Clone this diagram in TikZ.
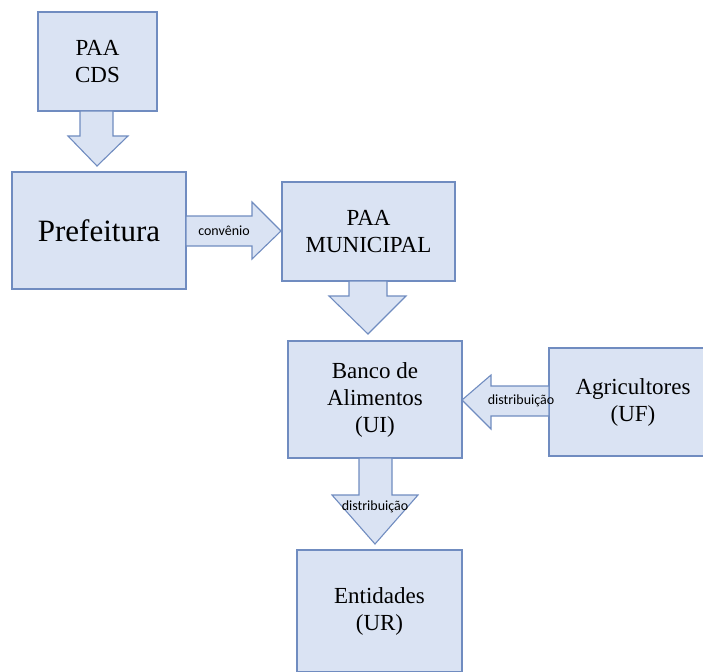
\documentclass[tikz,border=0pt]{standalone}
\usepackage{fontspec}
\setmainfont{Liberation Serif}
\newfontfamily\lblfont{Carlito}
\definecolor{boxfill}{RGB}{218,227,243}
\definecolor{boxline}{RGB}{112,140,192}
\begin{document}
\begin{tikzpicture}[x=1pt,y=-1pt,
  box/.style={draw=boxline,fill=boxfill,line width=1.1pt,align=center,inner sep=0pt,
    font=\fontsize{23}{27}\selectfont},
  blockarrow/.style={draw=boxline,fill=boxfill,line width=1.1pt,line join=miter},
  lbl/.style={font=\lblfont\fontsize{14}{16}\selectfont,inner sep=0pt}]
\useasboundingbox (0,0) rectangle (703,671);
\begin{scope}
\clip (0,0) rectangle (703,671);
\node[box,minimum width=119pt,minimum height=99pt] (cds) at (97.5,61.5) {PAA\\CDS};
\node[box,minimum width=174pt,minimum height=117pt,font=\fontsize{31}{36}\selectfont] (pref) at (99,230.5) {Prefeitura};
\node[box,minimum width=173pt,minimum height=99pt] (mun) at (368.5,231.5) {PAA\\MUNICIPAL};
\node[box,minimum width=174pt,minimum height=117pt] (banco) at (375,399.5) {Banco de\\Alimentos\\(UI)};
\node[box,minimum width=168pt,minimum height=108pt] (agri) at (633,402) {Agricultores\\(UF)};
\node[box,minimum width=165pt,minimum height=122pt] (ent) at (379.5,611) {Entidades\\(UR)};
\end{scope}
% CDS -> Prefeitura
\draw[blockarrow] (80,111) -- (113,111) -- (113,136) -- (128,136) -- (97,166) -- (68,136) -- (80,136) -- cycle;
% Prefeitura -> Municipal
\draw[blockarrow] (186,216) -- (252,216) -- (252,202) -- (281,231) -- (252,259) -- (252,246) -- (186,246) -- cycle;
\node[lbl] (conv) at (224,231) {convênio};
% Municipal -> Banco
\draw[blockarrow] (349,281) -- (387,281) -- (387,296) -- (406,296) -- (368,334) -- (329,296) -- (349,296) -- cycle;
% Agricultores -> Banco
\draw[blockarrow] (549,386) -- (491,386) -- (491,375) -- (462,400) -- (491,429) -- (491,416) -- (549,416) -- cycle;
\node[lbl] (dist1) at (521,401) {distribuição};
% Banco -> Entidades
\draw[blockarrow] (359,458) -- (392,458) -- (392,495) -- (418,495) -- (375,544) -- (332,495) -- (359,495) -- cycle;
\node[lbl] (dist2) at (375,507) {distribuição};
\end{tikzpicture}
\end{document}
